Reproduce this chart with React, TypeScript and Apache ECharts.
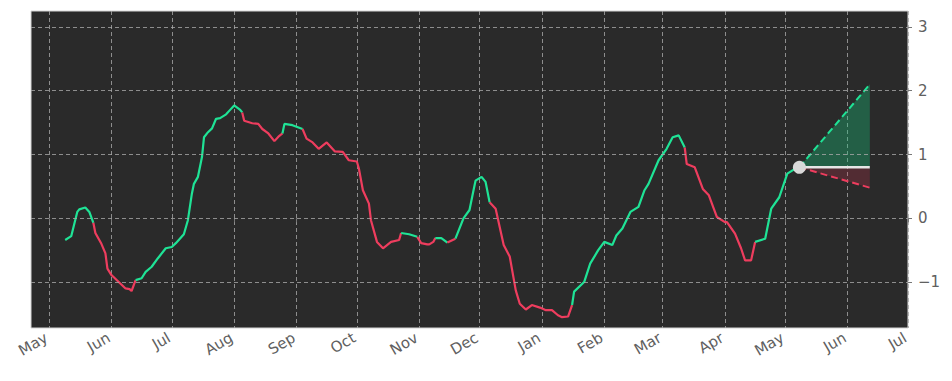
import React, { useEffect, useRef } from 'react';
import * as echarts from 'echarts';

const startDate = '2023-04-22';
const endDate = '2024-07-01';

const dates = [
  '2023-05-09','2023-05-12','2023-05-15','2023-05-16','2023-05-19','2023-05-21','2023-05-23','2023-05-24','2023-05-27','2023-05-29',
  '2023-05-30','2023-06-01','2023-06-05','2023-06-08','2023-06-10','2023-06-11','2023-06-13','2023-06-16','2023-06-18','2023-06-21',
  '2023-06-24','2023-06-28','2023-07-01','2023-07-03','2023-07-07','2023-07-09','2023-07-11','2023-07-12','2023-07-14','2023-07-16',
  '2023-07-17','2023-07-19','2023-07-21','2023-07-23','2023-07-25','2023-07-28','2023-07-30','2023-08-01','2023-08-04','2023-08-05',
  '2023-08-06','2023-08-10','2023-08-13','2023-08-15','2023-08-18','2023-08-21','2023-08-23','2023-08-25','2023-08-26','2023-08-30',
  '2023-09-04','2023-09-06','2023-09-09','2023-09-12','2023-09-16','2023-09-20','2023-09-24','2023-09-27','2023-10-01','2023-10-02',
  '2023-10-04','2023-10-07','2023-10-08','2023-10-11','2023-10-14','2023-10-16','2023-10-18','2023-10-22','2023-10-23','2023-10-27',
  '2023-10-31','2023-11-02','2023-11-05','2023-11-06','2023-11-08','2023-11-09','2023-11-12','2023-11-15','2023-11-19','2023-11-23',
  '2023-11-26','2023-11-28','2023-11-29','2023-12-02','2023-12-04','2023-12-06','2023-12-09','2023-12-13','2023-12-16','2023-12-19',
  '2023-12-21','2023-12-24','2023-12-27','2023-12-31','2024-01-03','2024-01-06','2024-01-09','2024-01-11','2024-01-14','2024-01-16',
  '2024-01-17','2024-01-22','2024-01-25','2024-01-29','2024-02-01','2024-02-05','2024-02-07','2024-02-10','2024-02-14','2024-02-18',
  '2024-02-21','2024-02-23','2024-02-28','2024-03-03','2024-03-06','2024-03-09','2024-03-12','2024-03-13','2024-03-17','2024-03-21',
  '2024-03-24','2024-03-28','2024-04-01','2024-04-02','2024-04-06','2024-04-09','2024-04-11','2024-04-14','2024-04-16','2024-04-21',
  '2024-04-24','2024-04-28','2024-05-02','2024-05-05','2024-05-08',
];

const values = [
  -0.34,-0.28,0.10,0.14,0.17,0.10,-0.07,-0.23,-0.40,-0.55,
  -0.79,-0.89,-1.01,-1.10,-1.11,-1.14,-0.97,-0.94,-0.84,-0.76,
  -0.63,-0.47,-0.45,-0.39,-0.25,-0.03,0.39,0.54,0.65,0.96,
  1.27,1.35,1.41,1.56,1.57,1.63,1.70,1.77,1.70,1.66,
  1.53,1.49,1.48,1.40,1.33,1.21,1.28,1.33,1.48,1.46,
  1.40,1.25,1.19,1.09,1.19,1.05,1.04,0.91,0.89,0.78,
  0.44,0.23,-0.03,-0.37,-0.47,-0.42,-0.37,-0.34,-0.23,-0.25,
  -0.29,-0.39,-0.41,-0.41,-0.37,-0.31,-0.31,-0.38,-0.32,0.00,
  0.13,0.44,0.59,0.65,0.57,0.25,0.15,-0.42,-0.60,-1.13,
  -1.34,-1.43,-1.36,-1.40,-1.44,-1.44,-1.52,-1.55,-1.54,-1.36,
  -1.15,-1.00,-0.71,-0.50,-0.37,-0.42,-0.27,-0.16,0.10,0.18,
  0.44,0.54,0.91,1.09,1.27,1.30,1.11,0.85,0.80,0.46,
  0.36,0.02,-0.06,-0.06,-0.24,-0.47,-0.66,-0.66,-0.37,-0.32,
  0.15,0.33,0.70,0.76,0.80,
];

// trend of the segment that starts at each point: u = up (green), d = down (red)
const trend = [
  'u','u','u','u','u','u','d','d','d','d',
  'd','d','d','d','d','d','u','u','u','u',
  'u','u','u','u','u','u','u','u','u','u',
  'u','u','u','u','u','u','u','u','u','d',
  'd','d','d','d','d','d','d','u','u','u',
  'd','d','d','d','d','d','d','d','d','d',
  'd','d','d','d','d','d','d','d','u','u',
  'd','d','d','d','d','u','u','d','u','u',
  'u','u','u','u','u','d','d','d','d','d',
  'd','d','d','d','d','d','d','d','d','u',
  'u','u','u','u','u','u','u','u','u','u',
  'u','u','u','u','u','u','d','d','d','d',
  'd','d','d','d','d','d','d','d','u','u',
  'u','u','u','u','u',
];

const projDates = ['2024-05-08', '2024-06-12'];
const projUpper = [0.8, 2.1];
const projMid = [0.8, 0.8];
const projLower = [0.8, 0.48];

const yTicks = [-1, 0, 1, 2, 3];
const monthNames = ['Jan','Feb','Mar','Apr','May','Jun','Jul','Aug','Sep','Oct','Nov','Dec'];

const GREEN = '#1fe396';
const RED = '#ee3d5e';
const DAY = 86400000;
const FONT = 'DejaVu Sans';
const TEXT = '#606060';

const dayIndex = (d: string) => Math.round((Date.parse(d) - Date.parse(startDate)) / DAY);

export default function App() {
  const ref = useRef<HTMLDivElement>(null);

  useEffect(() => {
    document.body.style.margin = '0';
    if (!ref.current) return;
    const chart = echarts.init(ref.current, undefined, { renderer: 'svg' });

    const nDays = dayIndex(endDate);
    const categories: string[] = [];
    for (let i = 0; i <= nDays; i++) {
      categories.push(new Date(Date.parse(startDate) + i * DAY).toISOString().slice(0, 10));
    }
    const isMonthStart = (_i: number, v: string) => typeof v === 'string' && v.endsWith('-01');

    const runs: { c: string; pts: number[][] }[] = [];
    let cur: { c: string; pts: number[][] } | null = null;
    for (let i = 0; i < values.length - 1; i++) {
      const c = trend[i];
      if (!cur || cur.c !== c) {
        cur = { c, pts: [[dayIndex(dates[i]), values[i]]] };
        runs.push(cur);
      }
      cur.pts.push([dayIndex(dates[i + 1]), values[i + 1]]);
    }

    const x0 = dayIndex(projDates[0]);
    const x1 = dayIndex(projDates[1]);

    const series: any[] = [];

    series.push({
      type: 'line',
      data: [],
      silent: true,
      z: 1,
      markLine: {
        silent: true,
        symbol: 'none',
        label: { show: false },
        animation: false,
        lineStyle: { color: '#a8a8a8', width: 0.8, type: [4, 3] },
        data: yTicks.map((t) => ({ yAxis: t })),
      },
    });

    series.push({
      type: 'custom',
      z: 2,
      silent: true,
      data: [[x0, projMid[0]]],
      renderItem: (_p: any, api: any) => {
        const p0 = api.coord([x0, projMid[0]]);
        const pu = api.coord([x1, projUpper[1]]);
        const pm = api.coord([x1, projMid[1]]);
        const pl = api.coord([x1, projLower[1]]);
        return {
          type: 'group',
          children: [
            { type: 'polygon', shape: { points: [p0, pu, pm] }, style: { fill: 'rgba(24,200,125,0.34)' } },
            { type: 'polygon', shape: { points: [p0, pm, pl] }, style: { fill: 'rgba(215,55,85,0.24)' } },
          ],
        };
      },
    });

    runs.forEach((r) => {
      series.push({
        type: 'line',
        data: r.pts,
        showSymbol: false,
        symbol: 'none',
        silent: true,
        z: 3,
        lineStyle: { color: r.c === 'u' ? GREEN : RED, width: 2.2 },
      });
    });

    series.push({
      type: 'line',
      data: [[x0, projUpper[0]], [x1, projUpper[1]]],
      symbol: 'none',
      silent: true,
      z: 4,
      lineStyle: { color: GREEN, width: 2, type: [7, 4] },
    });
    series.push({
      type: 'line',
      data: [[x0, projLower[0]], [x1, projLower[1]]],
      symbol: 'none',
      silent: true,
      z: 4,
      lineStyle: { color: RED, width: 2, type: [7, 4] },
    });
    series.push({
      type: 'line',
      data: [[x0, projMid[0]], [x1, projMid[1]]],
      symbol: 'none',
      silent: true,
      z: 4,
      lineStyle: { color: '#e6e6e6', width: 2.5 },
    });
    series.push({
      type: 'scatter',
      data: [[x0, projMid[0]]],
      symbolSize: 13,
      silent: true,
      z: 6,
      itemStyle: { color: '#d9d9d9', opacity: 1 },
    });

    chart.setOption({
      animation: false,
      grid: {
        left: 31,
        right: 44,
        top: 11,
        bottom: 53,
        show: true,
        backgroundColor: '#2a2a2a',
        borderColor: '#d4d4d4',
        borderWidth: 1,
      },
      xAxis: {
        type: 'category',
        data: categories,
        boundaryGap: false,
        axisLine: { show: false },
        axisTick: { show: true, interval: isMonthStart, length: 4, lineStyle: { color: '#777' } },
        axisLabel: {
          interval: isMonthStart,
          rotate: 30,
          margin: 7,
          color: TEXT,
          fontSize: 15,
          fontFamily: FONT,
          padding: [0, 3, 0, 0],
          formatter: (v: string) => monthNames[parseInt(v.slice(5, 7), 10) - 1],
        },
        splitLine: {
          show: true,
          interval: isMonthStart,
          lineStyle: { color: '#a8a8a8', width: 0.8, type: [4, 3] },
        },
      },
      yAxis: {
        type: 'value',
        position: 'right',
        min: -1.72,
        max: 3.25,
        axisLine: { show: false },
        axisTick: { show: true, length: 4, customValues: yTicks, lineStyle: { color: '#777' } },
        axisLabel: {
          customValues: yTicks,
          color: TEXT,
          fontSize: 15,
          fontFamily: FONT,
          margin: 10,
          formatter: (v: number) => (v < 0 ? '\u2212' + Math.abs(v) : String(v)),
        },
        splitLine: { show: false },
      },
      series,
    });

    return () => chart.dispose();
  }, []);

  return <div ref={ref} style={{ width: 952, height: 381 }} />;
}
